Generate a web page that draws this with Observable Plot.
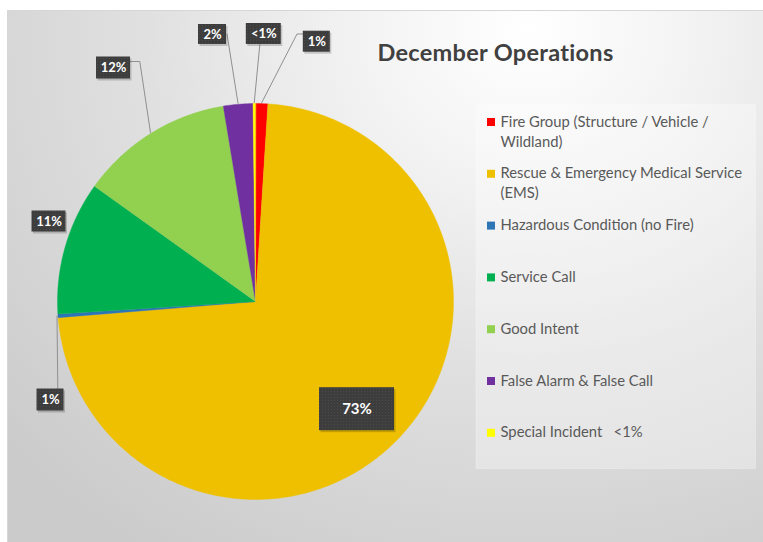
<!DOCTYPE html>
<html><head><meta charset="utf-8">
<script src="https://cdn.jsdelivr.net/npm/d3@7"></script>
<script src="https://cdn.jsdelivr.net/npm/@observablehq/plot@0.6"></script>
<style>
html,body{margin:0;padding:0;background:#fff;}
#wrap{position:relative;width:763px;height:542px;overflow:hidden;background:#fff;}
#area{position:absolute;left:7px;top:10px;width:780px;height:560px;border:1px solid #d6d6d6;box-sizing:border-box;
  background:radial-gradient(ellipse 700px 620px at 520px 20px,#ffffff 0%,#f4f4f4 22%,#e0e0e0 55%,#cbcbcb 100%);}
#chart{position:absolute;left:0;top:0;}
</style></head><body>
<div id="wrap"><div id="area"></div><div id="chart"></div></div>
<script>
// ---- data ----
const categories = ["Fire Group (Structure / Vehicle / Wildland)", "Rescue & Emergency Medical Service (EMS)", "Hazardous Condition (no Fire)", "Service Call", "Good Intent", "False Alarm & False Call", "Special Incident"];
const values = [1.0, 72.7, 0.3, 10.9, 12.5, 2.4, 0.2];
const dataLabels = ["1%", "73%", "1%", "11%", "12%", "2%", "<1%"];
const legendLabels = ["Fire Group (Structure / Vehicle /\nWildland)", "Rescue & Emergency Medical Service\n(EMS)", "Hazardous Condition (no Fire)", "Service Call", "Good Intent", "False Alarm & False Call", "Special Incident\u00a0\u00a0\u00a0<1%"];
const colors = ["#ff0000", "#eec000", "#2e75b6", "#00b050", "#92d050", "#7030a0", "#ffff00"];
const title = "December Operations";

// ---- layout ----
const W = 763, H = 542;
const cx = 255, cy = 301, R = 198;
const font = "Lato";
// label boxes: center, size, leader anchor points (pixels)
const labelLayout = [
  {bx: 316.3, by: 41.2, w: 27, h: 21, fs: 13, leader: [[302.7, 33.5], [296.5, 33.5]]},
  {bx: 356.5, by: 408.7, w: 75, h: 43, fs: 15, leader: null},
  {bx: 50, by: 399.5, w: 27, h: 22, fs: 13, leader: [[57.3, 388.5]]},
  {bx: 48.5, by: 221, w: 34, h: 21, fs: 13, leader: null},
  {bx: 113, by: 67.5, w: 34, h: 22, fs: 13, leader: [[130, 61], [139.3, 61]]},
  {bx: 212, by: 34, w: 28, h: 20, fs: 13, leader: [[226.5, 33.5]]},
  {bx: 263.3, by: 33.5, w: 35, h: 21, fs: 13, leader: [[259.3, 44.3]]}
];
const legendX = 487, legendTop = 122, legendStep = 51.8, legendFs = 14.8;

// ---- geometry from data ----
const arcs = d3.pie().sort(null).value(d => d)(values);
const pts = [];
arcs.forEach((a, i) => {
  const cat = categories[i];
  pts.push({cat, x: cx, y: cy});
  const n = Math.max(2, Math.ceil((a.endAngle - a.startAngle) / (Math.PI / 360)));
  for (let k = 0; k <= n; k++) {
    const t = a.startAngle + (a.endAngle - a.startAngle) * k / n;
    pts.push({cat, x: cx + R * Math.sin(t), y: cy - R * Math.cos(t)});
  }
});
const leaders = [];
const boxes = [];
arcs.forEach((a, i) => {
  const L = labelLayout[i];
  boxes.push({cat: categories[i], text: dataLabels[i], ...L});
  if (L.leader) {
    const m = (a.startAngle + a.endAngle) / 2;
    L.leader.forEach(p => leaders.push({id: i, x: p[0], y: p[1]}));
    leaders.push({id: i, x: cx + (R + 1) * Math.sin(m), y: cy - (R + 1) * Math.cos(m)});
  }
});
const legend = categories.map((c, i) => ({cat: c, label: legendLabels[i], y: legendTop + i * legendStep}));

const chart = Plot.plot({
  width: W, height: H, margin: 0,
  style: {background: "transparent", fontFamily: font},
  x: {domain: [0, W], range: [0, W], axis: null},
  y: {domain: [0, H], range: [0, H], axis: null},
  color: {domain: categories, range: colors},
  marks: [
    // legend panel
    Plot.rect([0], {x1: () => 476, x2: () => 755.5, y1: () => 104.5, y2: () => 468.5, fill: "#ffffff", fillOpacity: 0.32, stroke: "#ffffff", strokeOpacity: 0.25}),
    // pie
    Plot.line(pts, {x: "x", y: "y", z: "cat", fill: "cat", stroke: "cat", strokeWidth: 0.4, curve: "linear-closed"}),
    // leader lines
    Plot.line(leaders, {x: "x", y: "y", z: "id", stroke: "#8f8f8f", strokeWidth: 1}),
    // label boxes (shadow + box)
    Plot.rect(boxes, {x1: d => d.bx - d.w / 2 + 1.5, x2: d => d.bx + d.w / 2 + 1.5, y1: d => d.by - d.h / 2 + 2, y2: d => d.by + d.h / 2 + 2, fill: "#000", fillOpacity: 0.18}),
    Plot.rect(boxes, {x1: d => d.bx - d.w / 2, x2: d => d.bx + d.w / 2, y1: d => d.by - d.h / 2, y2: d => d.by + d.h / 2, fill: "url(#dots)"}),
    Plot.text(boxes, {x: "bx", y: "by", text: "text", fill: "#ffffff", fontWeight: "bold", fontSize: d => d.fs, lineAnchor: "middle", textAnchor: "middle", fontFamily: font}),
    // title
    Plot.text([title], {x: () => 495, y: () => 52.5, text: d => d, fontSize: 23.5, fontWeight: "bold", fill: "#404040", textAnchor: "middle", lineAnchor: "middle", fontFamily: font, className: "ttl"}),
    // legend
    Plot.rect(legend, {x1: () => legendX, x2: () => legendX + 8, y1: d => d.y - 4, y2: d => d.y + 4, fill: "cat"}),
    Plot.text(legend, {x: () => 500, y: d => d.y - 0.35 * legendFs - 5, text: "label", lineAnchor: "top", textAnchor: "start", fontSize: legendFs, lineHeight: 20 / legendFs, fill: "#595959", fontFamily: font})
  ]
});
d3.select(chart).insert("defs", ":first-child").html(
  '<pattern id="dots" width="3" height="3" patternUnits="userSpaceOnUse"><rect width="3" height="3" fill="#3d3d3d"/><rect x="1" y="1" width="1" height="1" fill="#4b4b4b"/></pattern>'
);
d3.select(chart).selectAll(".ttl text").style("letter-spacing", "0.3px");
document.getElementById("chart").appendChild(chart);
</script></body></html>
